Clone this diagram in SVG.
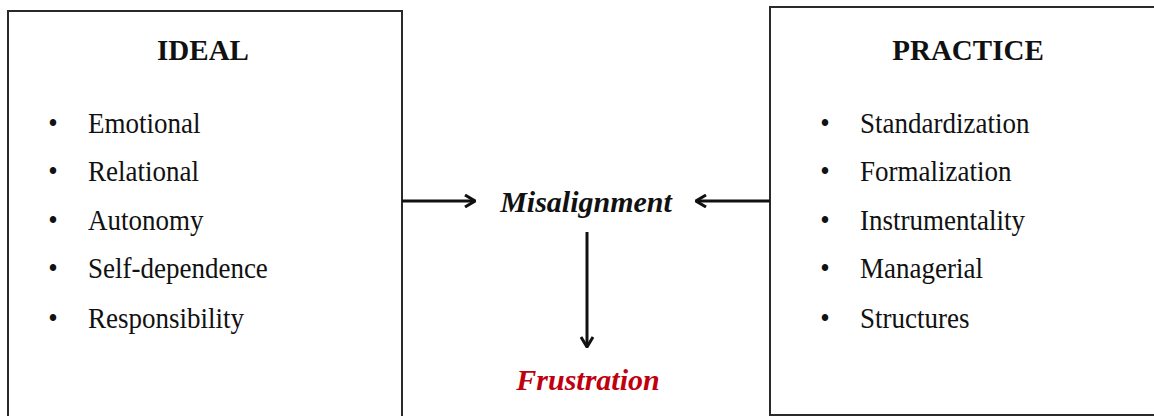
<svg xmlns="http://www.w3.org/2000/svg" width="1154" height="416" viewBox="0 0 1154 416">
<style>
.box{fill:#fff;stroke:#2a2a2a;stroke-width:2}
.title{font-family:"Liberation Serif",serif;font-weight:bold;font-size:29px;fill:#111;text-anchor:middle}
.item{font-family:"Liberation Serif",serif;font-size:27px;fill:#111}
.bul{font-family:"Liberation Serif",serif;font-size:27px;fill:#111;text-anchor:middle}
.lbl{font-family:"Liberation Serif",serif;font-weight:bold;font-style:italic;font-size:30px;text-anchor:middle}
.conn{stroke:#111;stroke-width:3;fill:none}
</style>
<defs>
<marker id="ah" viewBox="0 0 13 14" refX="12" refY="7" markerWidth="13" markerHeight="14" markerUnits="userSpaceOnUse" orient="auto">
<path d="M2,1 L12,7 L2,13" fill="none" stroke="#111" stroke-width="3" stroke-linejoin="miter"/>
</marker>
</defs>
<rect width="1154" height="416" fill="#fff"/>
<g id="ideal">
<rect class="box" x="8" y="11" width="394" height="410"/>
<text class="title" x="203" y="60">IDEAL</text>
<g transform="scale(1,1.1)">
<text class="bul" x="53" y="120.9">•</text><text class="item" x="88" y="120.9">Emotional</text>
<text class="bul" x="53" y="164.5">•</text><text class="item" x="88" y="164.5">Relational</text>
<text class="bul" x="53" y="209.1">•</text><text class="item" x="88" y="209.1">Autonomy</text>
<text class="bul" x="53" y="252.7">•</text><text class="item" x="88" y="252.7">Self-dependence</text>
<text class="bul" x="53" y="298.2">•</text><text class="item" x="88" y="298.2">Responsibility</text>
</g>
</g>
<g id="practice">
<rect class="box" x="770" y="7" width="394" height="408"/>
<text class="title" x="968" y="60">PRACTICE</text>
<g transform="scale(1,1.1)">
<text class="bul" x="825" y="120.9">•</text><text class="item" x="860" y="120.9">Standardization</text>
<text class="bul" x="825" y="164.5">•</text><text class="item" x="860" y="164.5">Formalization</text>
<text class="bul" x="825" y="209.1">•</text><text class="item" x="860" y="209.1">Instrumentality</text>
<text class="bul" x="825" y="252.7">•</text><text class="item" x="860" y="252.7">Managerial</text>
<text class="bul" x="825" y="298.2">•</text><text class="item" x="860" y="298.2">Structures</text>
</g>
</g>
<g id="misalignment">
<text class="lbl" x="586" y="212" fill="#111">Misalignment</text>
</g>
<g id="frustration">
<text class="lbl" x="588" y="390" fill="#c0000f">Frustration</text>
</g>
<g id="connectors">
<line class="conn" x1="402" y1="201" x2="475" y2="201" marker-end="url(#ah)"/>
<line class="conn" x1="770" y1="201" x2="696" y2="201" marker-end="url(#ah)"/>
<line class="conn" x1="587" y1="232" x2="587" y2="347" marker-end="url(#ah)"/>
</g>
</svg>
